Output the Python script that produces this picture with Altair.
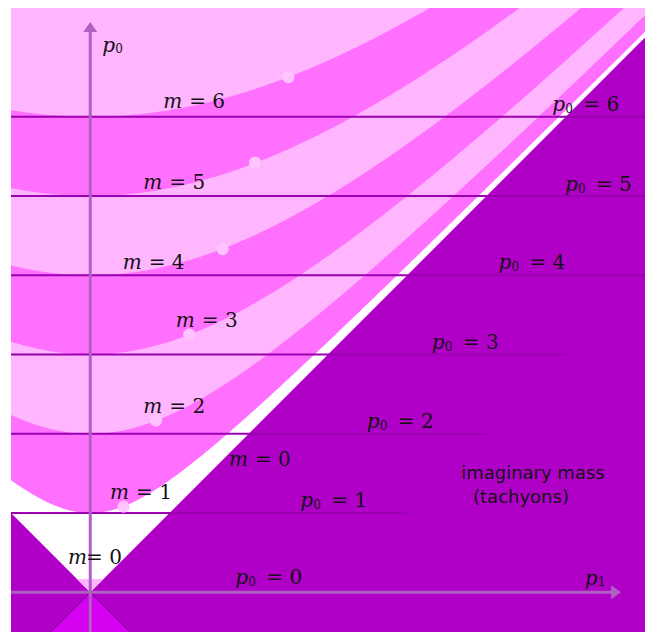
import altair as alt
import pandas as pd

# ---------------- data ----------------
masses = [1, 2, 3, 4, 5, 6]
band_colors = ["#ff70ff", "#ffb6ff", "#ff70ff", "#ffb6ff", "#ff70ff", "#ffb6ff"]

p0_levels = [1, 2, 3, 4, 5, 6]
p0_line_start = [-1, -1, -1, -1, -1, -1]
p0_line_end = [4, 5, 6, 7, 7, 7]

dot_p1 = [0.42, 0.83, 1.25, 1.67, 2.08, 2.50]
dot_p0 = [1.08, 2.17, 3.25, 4.33, 5.42, 6.50]

cone_p1 = [-1, 0, 7]          # light cone p0 = |p1|
past_p1 = [-0.5, 0, 0.5]      # past light cone
tip_p1 = [-0.17, 0, 0.17]     # small pink tip at origin
tip_top = 0.17

m_label_rest = ["= 6", "= 5", "= 4", "= 3", "= 2", "= 0", "= 1"]
m_label_p1 = [0.92, 0.67, 0.41, 1.08, 0.67, 1.75, 0.25]
m_label_p0 = [6.11, 5.09, 4.08, 3.35, 2.26, 1.59, 1.18]
m0_label_rest = ["= 0"]
m0_label_p1 = [-0.28]
m0_label_p0 = [0.36]

p_label_rest = ["= 6", "= 5", "= 4", "= 3", "= 2", "= 1", "= 0"]
p_label_p1 = [5.83, 5.99, 5.15, 4.31, 3.49, 2.65, 1.83]
p_label_p0 = [6.07, 5.06, 4.08, 3.07, 2.07, 1.08, 0.11]

axis_label_sub = ["0", "1"]
axis_label_p1 = [0.15, 6.24]
axis_label_p0 = [6.81, 0.09]

note_text = ["imaginary mass", "(tachyons)"]
note_p1 = [4.68, 4.83]
note_p0 = [1.43, 1.13]

X_DOM = [-1, 7]
Y_DOM = [-0.5, 7.371]
P1_AXIS_END = 6.62
P0_AXIS_END = 7.12
P1_ARROW = 6.61
P0_ARROW = 7.107

# ---------------- styles ----------------
W, H = 634, 624
PURPLE = "#b000c8"
PAST = "#d400f0"
LINE = "#9a00b0"
AXIS = "#b060c0"
DOT = "#ffc4ff"
TXT = "#141014"

xs = alt.Scale(domain=X_DOM, nice=False, zero=False)
ys = alt.Scale(domain=Y_DOM, nice=False, zero=False)
TOP = f"{Y_DOM[1]}"
BOTTOM = f"{Y_DOM[0]}"


def X(f):
    return alt.X(f, type="quantitative", scale=xs, axis=None)


def Y(f):
    return alt.Y(f, type="quantitative", scale=ys, axis=None)


layers = []

# past light cone
past_df = pd.DataFrame({"p1": past_p1})
layers.append(
    alt.Chart(past_df)
    .transform_calculate(p0="-abs(datum.p1)", lo=BOTTOM)
    .mark_area(color=PAST, clip=True)
    .encode(x=X("p1"), y=Y("p0"), y2="lo:Q")
)

# future light cone interior (white)
cone_df = pd.DataFrame({"p1": cone_p1})
layers.append(
    alt.Chart(cone_df)
    .transform_calculate(p0="abs(datum.p1)", hi=TOP)
    .mark_area(color="white", clip=True)
    .encode(x=X("p1"), y=Y("p0"), y2="hi:Q")
)

# mass-shell bands
for m, c in zip(masses, band_colors):
    layers.append(
        alt.Chart(alt.sequence(-1, 7.02, 0.02, as_="p1"))
        .transform_calculate(p0=f"sqrt({m}*{m} + datum.p1*datum.p1)", hi=TOP)
        .mark_area(color=c, clip=True)
        .encode(x=X("p1"), y=Y("p0"), y2="hi:Q")
    )

# small pink tip at origin
tip_df = pd.DataFrame({"p1": tip_p1})
layers.append(
    alt.Chart(tip_df)
    .transform_calculate(p0="abs(datum.p1)", top=str(tip_top))
    .mark_area(color="#ffb6ff", clip=True)
    .encode(x=X("p1"), y=Y("p0"), y2="top:Q")
)

# past cone edges
layers.append(
    alt.Chart(past_df)
    .transform_calculate(p0="-abs(datum.p1)")
    .mark_line(color="#7a0090", strokeWidth=1, clip=True)
    .encode(x=X("p1"), y=Y("p0"))
)

# horizontal p0 = const lines
lines_df = pd.DataFrame({"p0": p0_levels, "start": p0_line_start, "end": p0_line_end})
layers.append(
    alt.Chart(lines_df)
    .mark_rule(color=LINE, strokeWidth=2, clip=True)
    .encode(x=X("start"), x2="end:Q", y=Y("p0"))
)

# axes
p1_axis = pd.DataFrame({"a": [X_DOM[0]], "b": [P1_AXIS_END], "p0": [0]})
layers.append(
    alt.Chart(p1_axis)
    .mark_rule(color=AXIS, strokeWidth=3)
    .encode(x=X("a"), x2="b:Q", y=Y("p0"))
)
p0_axis = pd.DataFrame({"p1": [0], "a": [Y_DOM[0]], "b": [P0_AXIS_END]})
layers.append(
    alt.Chart(p0_axis)
    .mark_rule(color=AXIS, strokeWidth=3)
    .encode(x=X("p1"), y=Y("a"), y2="b:Q")
)
layers.append(
    alt.Chart(pd.DataFrame({"p1": [P1_ARROW], "p0": [0]}))
    .mark_point(shape="M1,0L-0.43,-1L-0.43,1Z", size=196, filled=True, color=AXIS, opacity=1)
    .encode(x=X("p1"), y=Y("p0"))
)
layers.append(
    alt.Chart(pd.DataFrame({"p1": [0], "p0": [P0_ARROW]}))
    .mark_point(shape="M0,-1L1,0.43L-1,0.43Z", size=196, filled=True, color=AXIS, opacity=1)
    .encode(x=X("p1"), y=Y("p0"))
)

# dots on the mass shells
dots_df = pd.DataFrame({"p1": dot_p1, "p0": dot_p0})
layers.append(
    alt.Chart(dots_df)
    .mark_circle(size=150, color=DOT, opacity=1)
    .encode(x=X("p1"), y=Y("p0"))
)

# ---------------- labels ----------------
serif_it = dict(font="DejaVu Serif", fontStyle="italic", fontSize=20, align="left",
                baseline="alphabetic", color=TXT)
serif = dict(font="DejaVu Serif", fontSize=20, align="left", baseline="alphabetic", color=TXT)
sub = dict(font="DejaVu Serif", fontSize=12, align="left", baseline="alphabetic", color=TXT)

mlab = pd.DataFrame({"p1": m_label_p1, "p0": m_label_p0, "rest": m_label_rest})
layers.append(alt.Chart(mlab).mark_text(**serif_it).encode(x=X("p1"), y=Y("p0"), text=alt.value("m")))
layers.append(alt.Chart(mlab).mark_text(dx=26, **serif).encode(x=X("p1"), y=Y("p0"), text="rest:N"))

m0lab = pd.DataFrame({"p1": m0_label_p1, "p0": m0_label_p0, "rest": m0_label_rest})
layers.append(alt.Chart(m0lab).mark_text(**serif_it).encode(x=X("p1"), y=Y("p0"), text=alt.value("m")))
layers.append(alt.Chart(m0lab).mark_text(dx=18, **serif).encode(x=X("p1"), y=Y("p0"), text="rest:N"))

plab = pd.DataFrame({"p1": p_label_p1, "p0": p_label_p0, "rest": p_label_rest})
layers.append(alt.Chart(plab).mark_text(**serif_it).encode(x=X("p1"), y=Y("p0"), text=alt.value("p")))
layers.append(alt.Chart(plab).mark_text(dx=13, dy=2, **sub).encode(x=X("p1"), y=Y("p0"), text=alt.value("0")))
layers.append(alt.Chart(plab).mark_text(dx=31, **serif).encode(x=X("p1"), y=Y("p0"), text="rest:N"))

alab = pd.DataFrame({"p1": axis_label_p1, "p0": axis_label_p0, "s": axis_label_sub})
layers.append(alt.Chart(alab).mark_text(**serif_it).encode(x=X("p1"), y=Y("p0"), text=alt.value("p")))
layers.append(alt.Chart(alab).mark_text(dx=13, dy=1, **sub).encode(x=X("p1"), y=Y("p0"), text="s:N"))

notes = pd.DataFrame({"p1": note_p1, "p0": note_p0, "t": note_text})
layers.append(
    alt.Chart(notes)
    .mark_text(font="DejaVu Sans", fontSize=18, align="left", baseline="alphabetic", color=TXT)
    .encode(x=X("p1"), y=Y("p0"), text="t:N")
)

chart = (
    alt.layer(*layers)
    .properties(
        width=W,
        height=H,
        padding={"left": 3, "top": 0, "right": 0, "bottom": 0},
        autosize=alt.AutoSizeParams(type="none"),
    )
    .configure_view(fill=PURPLE, stroke=None)
)

chart.save("out.html", embed_options={"renderer": "svg", "actions": False})
